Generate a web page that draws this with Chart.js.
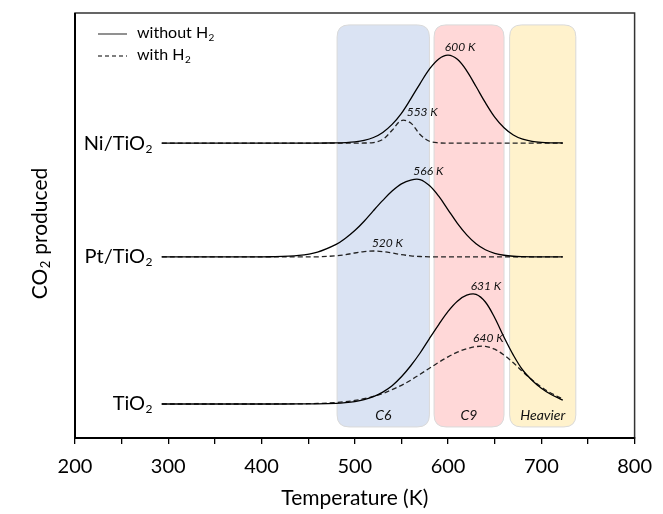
<!DOCTYPE html>
<html>
<head>
<meta charset="utf-8">
<script src="https://cdn.jsdelivr.net/npm/chart.js@4.4.1/dist/chart.umd.min.js"></script>
<style>
html,body{margin:0;padding:0;background:#fff;}
#wrap{width:663px;height:514px;position:relative;}
</style>
</head>
<body>
<div id="wrap"><canvas id="c" width="663" height="514"></canvas></div>
<script>
// ---- data ----
const temps = [293, 320, 350, 380, 410, 440, 460, 480, 490, 500, 510, 520, 530, 540, 550, 560, 570, 580, 590, 600, 610, 620, 630, 640, 650, 660, 670, 680, 690, 700, 710, 723];

const niWithout = [0, 0, 0, 0, 0, 0, 0, 0.04, 0.11, 0.27, 0.62, 1.3, 2.5, 4.4, 7.0, 10.4, 14.0, 17.4, 19.8, 20.7, 19.7, 17.0, 13.3, 9.5, 6.1, 3.6, 1.9, 0.9, 0.4, 0.16, 0.06, 0.01];
const niWith    = [0, 0, 0, 0, 0, 0, 0, 0, 0, 0, 0.01, 0.12, 0.86, 3.0, 5.3, 4.7, 2.0, 0.43, 0.05, 0, 0, 0, 0, 0, 0, 0, 0, 0, 0, 0, 0, 0];
const ptWithout = [0, 0, 0, 0, 0.05, 0.36, 1.14, 2.95, 4.4, 6.2, 8.4, 10.9, 13.3, 15.5, 17.2, 18.1, 18.2, 16.8, 14.3, 11.1, 7.9, 5.2, 3.1, 1.7, 0.87, 0.4, 0.17, 0.07, 0.02, 0, 0, 0];
const ptWith    = [0, 0, 0, 0, 0, 0, 0.03, 0.27, 0.55, 0.93, 1.26, 1.4, 1.26, 0.93, 0.55, 0.27, 0.11, 0.03, 0, 0, 0, 0, 0, 0, 0, 0, 0, 0, 0, 0, 0, 0];
const tiWithout = [0, 0, 0, 0, 0, 0.01, 0.04, 0.16, 0.31, 0.57, 1.02, 1.73, 2.8, 4.3, 6.4, 9.0, 12.0, 15.4, 18.7, 21.8, 24.2, 25.6, 25.8, 24.0, 20.3, 15.7, 11.5, 8.0, 5.6, 3.7, 2.3, 0.9];
const tiWith    = [0, 0, 0, 0, 0, 0.04, 0.13, 0.35, 0.55, 0.84, 1.24, 1.78, 2.48, 3.36, 4.4, 5.6, 7.0, 8.4, 9.8, 11.1, 12.2, 13.0, 13.5, 13.56, 12.9, 11.5, 9.7, 7.6, 5.7, 4.0, 2.6, 1.2];

const catalystNames = ['Ni/TiO', 'Pt/TiO', 'TiO'];   // each followed by subscript 2
const baselines = [69.4, 42.6, 8.0];

const peakTemps  = [600, 553, 566, 520, 631, 640];
const peakLabels = ['600 K', '553 K', '566 K', '520 K', '631 K', '640 K'];

const regionNames = ['C6', 'C9', 'Heavier'];
const regionFrom  = [481, 585, 666];
const regionTo    = [580, 660, 737];

const xMin = 200, xMax = 800, xMajor = 100, xMinor = 50;
const legendLabels = ['without H', 'with H'];

// ---- styles ----
const FONT = 'Lato, "Open Sans", sans-serif';
const regionFill = ['#DAE3F3', '#FFD8D8', '#FFF2CC'];
const peakDx = [12, 18, 12, 14, 9, 3];
const series = [
  {vals: niWithout, base: 0, dash: []},
  {vals: niWith,    base: 0, dash: [5, 3]},
  {vals: ptWithout, base: 1, dash: []},
  {vals: ptWith,    base: 1, dash: [5, 3]},
  {vals: tiWithout, base: 2, dash: []},
  {vals: tiWith,    base: 2, dash: [5, 3]},
];

const datasets = series.map(s => ({
  data: temps.map((t, i) => ({x: t, y: baselines[s.base] + s.vals[i]})),
  borderColor: s.dash.length ? '#222' : '#000',
  borderWidth: 1.3,
  borderDash: s.dash,
  pointRadius: 0,
  fill: false,
  tension: 0.35
}));

function drawSub(ctx, main, sub, x, y, size, align, italic) {
  const f = (italic ? 'italic ' : '') + size + 'px ' + FONT;
  const fs = (italic ? 'italic ' : '') + Math.round(size * 0.62) + 'px ' + FONT;
  ctx.font = f;
  const w1 = ctx.measureText(main).width;
  ctx.font = fs;
  const w2 = sub ? ctx.measureText(sub).width : 0;
  let x0 = x;
  if (align === 'right') x0 = x - w1 - w2;
  else if (align === 'center') x0 = x - (w1 + w2) / 2;
  ctx.textAlign = 'left';
  ctx.textBaseline = 'middle';
  ctx.font = f;
  ctx.fillText(main, x0, y);
  if (sub) {
    ctx.font = fs;
    ctx.fillText(sub, x0 + w1 + 0.5, y + size * 0.28);
  }
}

function roundRect(ctx, x, y, w, h, r) {
  ctx.beginPath();
  ctx.moveTo(x + r, y);
  ctx.lineTo(x + w - r, y);
  ctx.quadraticCurveTo(x + w, y, x + w, y + r);
  ctx.lineTo(x + w, y + h - r);
  ctx.quadraticCurveTo(x + w, y + h, x + w - r, y + h);
  ctx.lineTo(x + r, y + h);
  ctx.quadraticCurveTo(x, y + h, x, y + h - r);
  ctx.lineTo(x, y + r);
  ctx.quadraticCurveTo(x, y, x + r, y);
  ctx.closePath();
}

const deco = {
  id: 'deco',
  beforeDatasetsDraw(chart) {
    const {ctx, scales: {x, y}} = chart;
    ctx.save();
    regionNames.forEach((name, i) => {
      const x0 = x.getPixelForValue(regionFrom[i]);
      const x1 = x.getPixelForValue(regionTo[i]);
      const y0 = y.getPixelForValue(97.2);
      const y1 = y.getPixelForValue(2.6);
      roundRect(ctx, x0, y0, x1 - x0, y1 - y0, 12);
      ctx.fillStyle = regionFill[i];
      ctx.fill();
      ctx.strokeStyle = '#d9d9d9';
      ctx.lineWidth = 1;
      ctx.stroke();
      ctx.fillStyle = '#111';
      drawSub(ctx, name, '', (x0 + x1) / 2, y1 - 11, 14, 'center', true);
    });
    ctx.restore();
  },
  afterDatasetsDraw(chart) {
    const {ctx, scales: {x, y}, chartArea: a} = chart;
    ctx.save();
    // peak labels
    peakLabels.forEach((lab, i) => {
      const s = series[i];
      const top = baselines[s.base] + Math.max(...s.vals);
      ctx.fillStyle = '#111';
      drawSub(ctx, lab, '', x.getPixelForValue(peakTemps[i]) + peakDx[i], y.getPixelForValue(top) - 8, 12, 'center', true);
    });
    // catalyst labels
    catalystNames.forEach((n, i) => {
      ctx.fillStyle = '#000';
      drawSub(ctx, n, '2', 152, y.getPixelForValue(baselines[i]), 20, 'right', false);
    });
    // legend
    ctx.strokeStyle = '#555';
    ctx.lineWidth = 1.3;
    ctx.beginPath(); ctx.moveTo(98, 34); ctx.lineTo(127, 34); ctx.stroke();
    ctx.setLineDash([4, 3]);
    ctx.beginPath(); ctx.moveTo(98, 56); ctx.lineTo(127, 56); ctx.stroke();
    ctx.setLineDash([]);
    ctx.fillStyle = '#000';
    drawSub(ctx, legendLabels[0], '2', 137, 33, 16, 'left', false);
    drawSub(ctx, legendLabels[1], '2', 137, 55, 16, 'left', false);
    // frame
    ctx.strokeStyle = '#333';
    ctx.lineWidth = 1.5;
    ctx.strokeRect(a.left, a.top, a.right - a.left, a.bottom - a.top);
    ctx.strokeStyle = '#000';
    ctx.lineWidth = 2;
    ctx.beginPath();
    ctx.moveTo(a.left, a.top); ctx.lineTo(a.left, a.bottom); ctx.lineTo(a.right, a.bottom);
    ctx.stroke();
    // axis titles
    ctx.fillStyle = '#000';
    drawSub(ctx, 'Temperature (K)', '', (a.left + a.right) / 2, 498, 21, 'center', false);
    ctx.translate(40, 234);
    ctx.rotate(-Math.PI / 2);
    ctx.font = '21px ' + FONT;
    const w1 = ctx.measureText('CO').width;
    ctx.font = '13px ' + FONT;
    const w2 = ctx.measureText('2').width;
    ctx.font = '21px ' + FONT;
    const w3 = ctx.measureText(' produced').width;
    const tot = w1 + w2 + w3;
    ctx.textAlign = 'left'; ctx.textBaseline = 'middle';
    ctx.fillText('CO', -tot / 2, 0);
    ctx.font = '13px ' + FONT;
    ctx.fillText('2', -tot / 2 + w1 + 0.5, 6);
    ctx.font = '21px ' + FONT;
    ctx.fillText(' produced', -tot / 2 + w1 + w2 + 1, 0);
    ctx.restore();
  }
};

new Chart(document.getElementById('c'), {
  type: 'line',
  data: {datasets},
  options: {
    responsive: false,
    animation: false,
    events: [],
    layout: {padding: {left: 75, right: 20, top: 13, bottom: 0}},
    plugins: {legend: {display: false}, tooltip: {enabled: false}},
    scales: {
      x: {
        type: 'linear', min: xMin, max: xMax,
        afterFit: s => { s.height = 76; },
        ticks: {
          stepSize: xMinor,
          autoSkip: false,
          maxRotation: 0,
          padding: 11,
          color: '#000',
          font: {family: FONT, size: 20},
          callback: v => (v % xMajor === 0 ? String(v) : '')
        },
        grid: {drawOnChartArea: false, drawTicks: true, tickLength: 6, color: '#000', lineWidth: 1.3},
        border: {display: true, color: '#000', width: 2}
      },
      y: {
        display: false, min: 0, max: 100
      }
    }
  },
  plugins: [deco]
});
</script>
</body>
</html>
